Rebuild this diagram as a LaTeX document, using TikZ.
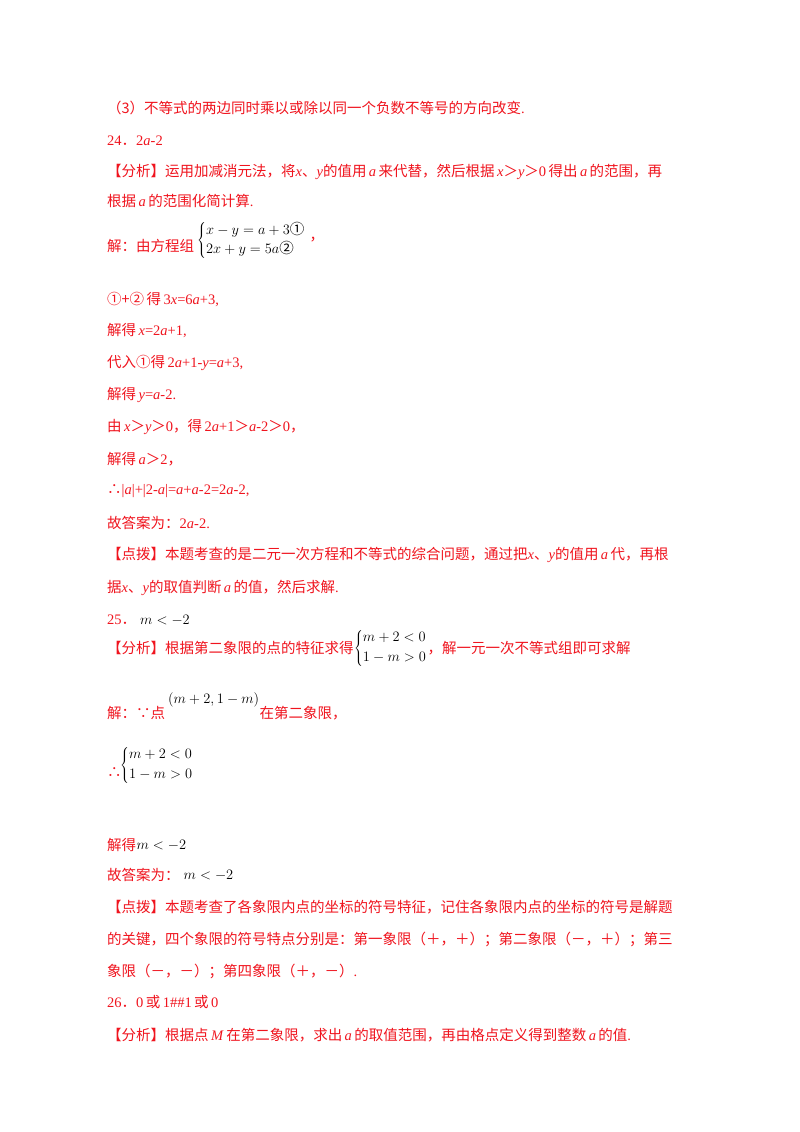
\documentclass[tikz,border=0pt]{standalone}
\usepackage{fontspec}
\setmainfont{Liberation Serif}
\newfontfamily\cjk{Noto Sans CJK SC}
\newcommand{\zh}[1]{{\cjk #1}}
\newcommand{\vi}[1]{\textit{#1}}
\definecolor{rd}{RGB}{240,20,30}
\begin{document}
\begin{tikzpicture}[x=1pt,y=-1pt,
  t/.style={anchor=west,inner sep=0pt,text=rd,font=\fontsize{14.5}{16}\selectfont},
  m/.style={anchor=west,inner sep=0pt,text=black,font=\fontsize{14.5}{16}\selectfont}]
\useasboundingbox (0,0) rectangle (800,1132);
\fill[white] (0,0) rectangle (800,1132);
\node[t] (l1) at (107,108) {\zh{（3）不等式的两边同时乘以或除以同一个负数不等号的方向改变}.};
\node[t] (l2) at (107,141) {24\zh{．}2\vi{a}-2};
\node[t] (l3) at (107,172) {\zh{【分析】运用加减消元法，将}\vi{x}\zh{、}\vi{y}\zh{的值用}\,\vi{a}\,\zh{来代替，然后根据}\,\vi{x}\zh{＞}\vi{y}\zh{＞}0\,\zh{得出}\,\vi{a}\,\zh{的范围，再}};
\node[t] (l4) at (107,201) {\zh{根据}\,\vi{a}\,\zh{的范围化简计算}.};
\node[t] (l5) at (107,246) {\zh{解：由方程组}};
\node[m] (s1) at (197,240) {$\left\{\begin{array}{@{}l@{}}x-y=a+3\mbox{\zh{①}}\\[2pt] 2x+y=5a\mbox{\zh{②}}\end{array}\right.$};
\node[t] (l5b) at (s1.east) {\ \zh{，}};
\node[t] (l6) at (107,299) {\zh{①+②\,得}\,3\vi{x}=6\vi{a}+3,};
\node[t] (l7) at (107,331) {\zh{解得}\,\vi{x}=2\vi{a}+1,};
\node[t] (l8) at (107,363) {\zh{代入①得}\,2\vi{a}+1-\vi{y}=\vi{a}+3,};
\node[t] (l9) at (107,395) {\zh{解得}\,\vi{y}=\vi{a}-2.};
\node[t] (l10) at (107,427) {\zh{由}\,\vi{x}\zh{＞}\vi{y}\zh{＞}0\zh{，得}\,2\vi{a}+1\zh{＞}\vi{a}-2\zh{＞}0\zh{，}};
\node[t] (l11) at (107,459) {\zh{解得}\,\vi{a}\zh{＞}2\zh{，}};
\node[t] (l12) at (107,491) {\zh{∴}|\vi{a}|+|2-\vi{a}|=\vi{a}+\vi{a}-2=2\vi{a}-2,};
\node[t] (l13) at (107,523) {\zh{故答案为：}2\vi{a}-2.};
\node[t] (l14) at (107,555) {\zh{【点拨】本题考查的是二元一次方程和不等式的综合问题，通过把}\vi{x}\zh{、}\vi{y}\zh{的值用}\,\vi{a}\,\zh{代，再根}};
\node[t] (l15) at (107,588) {\zh{据}\vi{x}\zh{、}\vi{y}\zh{的取值判断}\,\vi{a}\,\zh{的值，然后求解}.};
\node[t] (l16) at (107,620) {25\zh{．}};
\node[m] (l16m) at (l16.east) {\ $m<-2$};
\node[t] (l17) at (107,648) {\zh{【分析】根据第二象限的点的特征求得}};
\node[m] (s2) at (l17.east) {$\left\{\begin{array}{@{}l@{}}m+2<0\\[4pt] 1-m>0\end{array}\right.$};
\node[t] (l17b) at (s2.east) {\zh{，解一元一次不等式组即可求解}};
\node[t] (l18) at (107,713) {\zh{解：∵点}};
\node[m] (l18m) at (168,700) {$\left(m+2,1-m\right)$};
\node[t] (l18b) at (l18m.east |- l18) {\zh{在第二象限，}};
\node[t] (l19) at (107,773) {\zh{∴}};
\node[m] (s3) at (120,765) {$\left\{\begin{array}{@{}l@{}}m+2<0\\[4pt] 1-m>0\end{array}\right.$};
\node[t] (l20) at (107,845) {\zh{解得}};
\node[m] (l20m) at (l20.east) {$m<-2$};
\node[t] (l21) at (107,875) {\zh{故答案为：}};
\node[m] (l21m) at (l21.east) {\ $m<-2$};
\node[t] (l22) at (107,907) {\zh{【点拨】本题考查了各象限内点的坐标的符号特征，记住各象限内点的坐标的符号是解题}};
\node[t] (l23) at (107,939) {\zh{的关键，四个象限的符号特点分别是：第一象限（＋，＋）；第二象限（－，＋）；第三}};
\node[t] (l24) at (107,971) {\zh{象限（－，－）；第四象限（＋，－）}.};
\node[t] (l25) at (107,1002) {26\zh{．}0\,\zh{或}\,1\#\#1\,\zh{或}\,0};
\node[t] (l26) at (107,1035) {\zh{【分析】根据点}\,\vi{M}\,\zh{在第二象限，求出}\,\vi{a}\,\zh{的取值范围，再由格点定义得到整数}\,\vi{a}\,\zh{的值}.};
\end{tikzpicture}
\end{document}
